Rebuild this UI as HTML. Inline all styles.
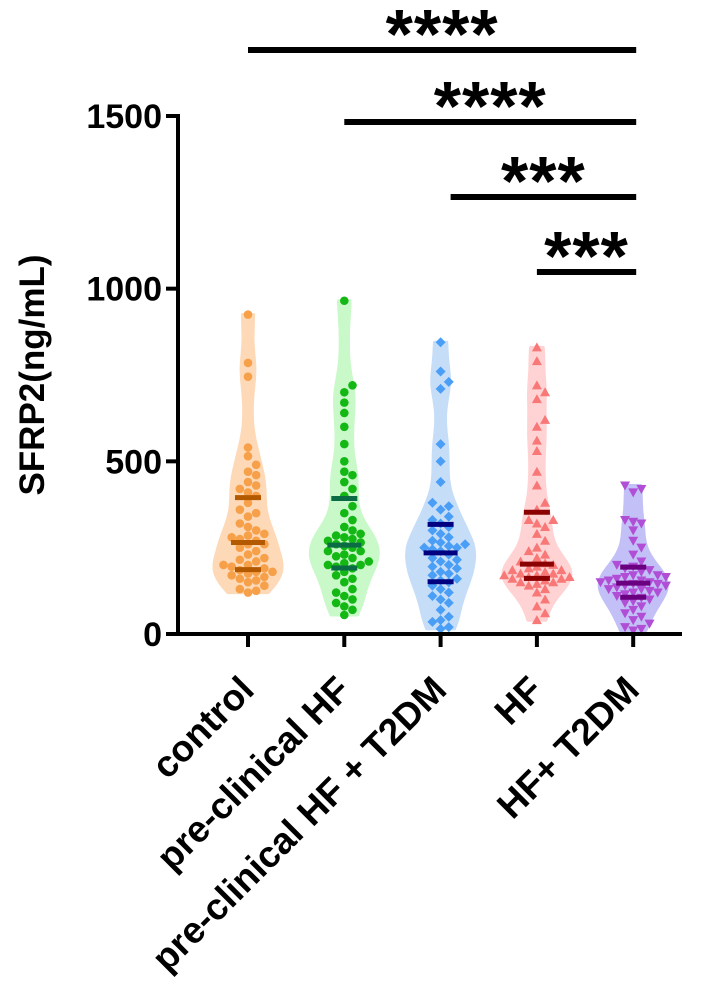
<!DOCTYPE html>
<html><head><meta charset="utf-8"><style>
body{margin:0;background:#fff}
svg{display:block;font-family:"Liberation Sans",Arial,sans-serif;font-weight:bold}
</style></head><body>
<svg id="chart" width="709" height="1004" viewBox="0 0 709 1004">
<g id="sig"></g>
<g id="violins"></g>
<g id="axes"></g>
</svg>
<script>
const categories=["control","pre-clinical HF","pre-clinical HF + T2DM","HF","HF+ T2DM"];
const controlValues=[925,785,745,540,515,490,470,460,440,430,420,410,400,380,360,350,340,320,310,300,290,285,280,275,270,260,250,240,230,220,210,200,195,190,185,180,180,175,170,165,160,150,140,130,120,125,155,200,215,260];
const preHFValues=[965,720,700,670,640,600,550,500,470,460,440,420,400,370,330,300,290,285,280,275,270,265,260,255,250,240,230,220,210,205,200,200,195,190,180,170,160,150,130,120,110,100,90,80,70,55,310,350,240,225];
const preHFT2Values=[845,760,730,710,550,500,440,380,370,360,340,330,320,310,300,280,270,260,255,250,250,240,230,220,210,200,190,180,170,160,150,140,130,120,100,90,70,50,40,20,15,35,290,265,245,215,195,175,155,110];
const hfValues=[830,790,720,700,680,620,600,560,530,470,430,380,360,330,320,310,290,270,250,230,220,210,200,195,190,185,180,175,170,165,160,160,155,150,150,145,140,130,120,100,80,60,40,175,185,205,170,165,240,330];
const hfT2Values=[430,420,410,330,325,320,300,270,250,230,210,200,195,190,180,170,165,160,155,150,150,145,140,140,135,130,125,120,110,100,95,90,80,70,60,50,40,30,20,15,10,170,185,155,115,105,165,145,120,130];
const yTicks=[0,500,1000,1500];
const sigStars=["****","****","***","***"];
const sigFrom=[0,1,2,3];
const sigTo=[4,4,4,4];

const series=[controlValues,preHFValues,preHFT2Values,hfValues,hfT2Values];
const fills=["#fdd9b8","#c9f8c9","#c6ddf8","#ffd3d3","#c3c0f7"];
const pts=["#f7a04a","#14b814","#4b9ef5","#f87878","#b04ed6"];
const lines=["#b35900","#0a6b45","#000080","#8b0000","#6a0080"];
const shapes=["circle","circle","diamond","up","down"];
const NS="http://www.w3.org/2000/svg";
const y0=634,y1=116,vmax=1500;
const yS=v=>y0-(v/vmax)*(y0-y1);
const xS=i=>248+i*96.3;
function mk(t,a,p){const e=document.createElementNS(NS,t);for(const k in a)e.setAttribute(k,a[k]);p.appendChild(e);return e;}
function q(arr,p){const s=[...arr].sort((a,b)=>a-b);const i=(s.length-1)*p,lo=Math.floor(i);return s[lo]+(s[Math.min(lo+1,s.length-1)]-s[lo])*(i-lo);}

const vg=document.getElementById('violins');
series.forEach((vals,gi)=>{
  const cx=xS(gi);
  const g=mk('g',{},vg);
  
  
  const mn=Math.min(...vals),mx=Math.max(...vals),bw=45;
  const steps=60,dens=[];
  for(let k=0;k<=steps;k++){const v=mn+(mx-mn)*k/steps;let d=0;vals.forEach(x=>{d+=Math.exp(-0.5*((v-x)/bw)**2)});dens.push([v,d]);}
  const dm=Math.max(...dens.map(d=>d[1]));
  const hw=d=>4+d/dm*30;
  let path="M";
  dens.forEach(([v,d],k)=>{path+=(k?"L":"")+(cx+hw(d)).toFixed(1)+","+yS(v).toFixed(1);});
  for(let k=dens.length-1;k>=0;k--){path+="L"+(cx-hw(dens[k][1])).toFixed(1)+","+yS(dens[k][0]).toFixed(1);}
  const vp=mk('path',{d:path+"Z",fill:fills[gi],stroke:fills[gi],'stroke-width':3,'stroke-linejoin':'round'},g);
  
  
  const placed=[];const r=4.3;
  [...vals].sort((a,b)=>a-b).forEach(v=>{
    const py=yS(v);let off=0;
    for(let n=0;n<40;n++){const o=(n%2?1:-1)*Math.ceil(n/2)*r*1.9;
      if(placed.every(p=>Math.hypot(p[0]-(cx+o),p[1]-py)>=r*1.9)){off=o;break;}}
    const px=cx+off;placed.push([px,py]);
    let e;
    if(shapes[gi]==="circle")e=mk('circle',{cx:px,cy:py,r:r,fill:pts[gi]},g);
    else if(shapes[gi]==="diamond")e=mk('polygon',{points:`${px},${py-5} ${px+5},${py} ${px},${py+5} ${px-5},${py}`,fill:pts[gi]},g);
    else if(shapes[gi]==="up")e=mk('polygon',{points:`${px},${py-5} ${px+5},${py+4} ${px-5},${py+4}`,fill:pts[gi]},g);
    else e=mk('polygon',{points:`${px},${py+5} ${px+5},${py-4} ${px-5},${py-4}`,fill:pts[gi]},g);
    
    
  });
  [0.25,0.5,0.75].forEach(p=>{
    const l=mk('line',{x1:cx-(p===0.5?17:13),x2:cx+(p===0.5?17:13),y1:yS(q(vals,p)),y2:yS(q(vals,p)),stroke:lines[gi],'stroke-width':5},g);
    
    
  });
});

const ax=document.getElementById('axes');
let e=mk('line',{x1:178,x2:178,y1:y1-2,y2:y0+2,stroke:'#000','stroke-width':4},ax);

e=mk('line',{x1:176,x2:682,y1:y0,y2:y0,stroke:'#000','stroke-width':4},ax);

yTicks.forEach(t=>{
  const tl=mk('line',{x1:166,x2:178,y1:yS(t),y2:yS(t),stroke:'#000','stroke-width':4},ax);
  
  const tx=mk('text',{x:162,y:yS(t)+12,'text-anchor':'end','font-size':34},ax);
  tx.textContent=t;
  
});
e=mk('text',{x:0,y:0,transform:'translate(44,375) rotate(-90)','text-anchor':'middle','font-size':35},ax);
e.textContent="SFRP2(ng/mL)";

categories.forEach((c,i)=>{
  const tl=mk('line',{x1:xS(i),x2:xS(i),y1:y0,y2:y0+13,stroke:'#000','stroke-width':4},ax);
  
  const tx=mk('text',{x:0,y:0,transform:`translate(${xS(i)+8},${y0+58}) rotate(-45)`,'text-anchor':'end','font-size':37},ax);
  tx.textContent=c;
  
});

const sg=document.getElementById('sig');
const barY=[50,122,197,272];
sigStars.forEach((s,k)=>{
  const xa=xS(sigFrom[k])+(k===2?10:0),xb=xS(sigTo[k])+3;
  const b=mk('line',{x1:xa,x2:xb,y1:barY[k],y2:barY[k],stroke:'#000','stroke-width':6},sg);
  
  const t=mk('text',{x:(xa+xb)/2,y:barY[k]+8,'text-anchor':'middle','font-size':70,'letter-spacing':1},sg);
  t.textContent=s;
  
});
</script>
</body></html>
